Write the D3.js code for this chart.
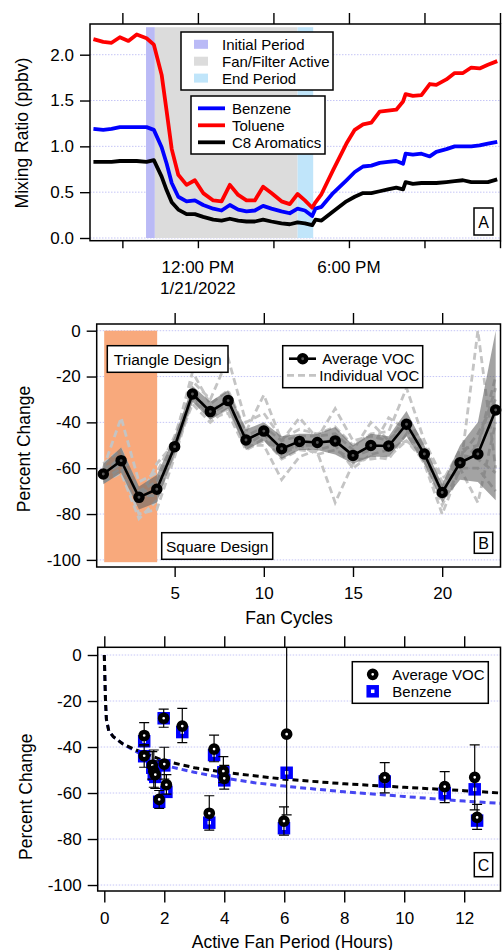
<!DOCTYPE html>
<html>
<head>
<meta charset="utf-8">
<script src="https://cdn.jsdelivr.net/npm/d3@7"></script>
<style>
body{margin:0;background:#fff}
svg{display:block;font-family:"Liberation Sans",Arial,Helvetica,sans-serif}
</style>
</head>
<body>
<svg id="fig" width="502" height="950"></svg>
<script>
// ---------- panel A : mixing ratios on 1/21/2022 (hour of day) ----------
var hoursA = [7.85,8.24,8.57,8.90,9.24,9.57,9.96,10.25,10.56,10.76,10.96,11.22,11.55,11.88,12.21,12.61,12.94,
  13.27,13.60,13.93,14.26,14.59,14.92,15.32,15.65,15.96,16.25,16.54,16.67,16.91,17.37,17.90,18.23,18.56,18.89,
  19.22,19.55,19.88,20.15,20.25,20.54,20.88,21.21,21.47,21.87,22.20,22.53,22.86,23.19,23.52,23.89];
var toluene = [2.17,2.14,2.13,2.19,2.15,2.22,2.18,2.11,1.78,1.38,0.97,0.69,0.58,0.63,0.49,0.41,0.40,
  0.58,0.47,0.41,0.41,0.56,0.49,0.40,0.37,0.48,0.41,0.33,0.39,0.48,0.74,1.03,1.18,1.24,1.26,
  1.38,1.39,1.40,1.49,1.57,1.55,1.56,1.68,1.67,1.73,1.80,1.80,1.86,1.85,1.89,1.93];
var benzene = [1.19,1.18,1.19,1.21,1.21,1.21,1.21,1.18,0.99,0.81,0.60,0.45,0.40,0.41,0.36,0.32,0.30,
  0.36,0.31,0.29,0.30,0.35,0.32,0.29,0.27,0.32,0.30,0.24,0.32,0.34,0.49,0.63,0.72,0.78,0.79,
  0.82,0.83,0.84,0.81,0.92,0.91,0.92,0.89,0.94,0.97,1.00,1.00,1.00,1.01,1.03,1.05];
var c8arom = [0.83,0.83,0.83,0.84,0.84,0.84,0.83,0.85,0.67,0.52,0.39,0.31,0.26,0.26,0.23,0.20,0.19,
  0.21,0.19,0.18,0.18,0.20,0.18,0.16,0.15,0.17,0.16,0.14,0.20,0.19,0.29,0.40,0.45,0.49,0.49,
  0.51,0.53,0.55,0.53,0.61,0.59,0.60,0.60,0.60,0.61,0.62,0.63,0.61,0.61,0.61,0.64];
var periodNames = ["Initial Period", "Fan/Filter Active", "End Period"];
var periodStart = [9.94, 10.29, 15.96];
var periodEnd = [10.29, 15.96, 16.58];
var periodTop = 2.3;
var ticksA = [0, 0.5, 1.0, 1.5, 2.0];

// ---------- panel B : percent change per fan cycle ----------
var cycles = [1,2,3,4,5,6,7,8,9,10,11,12,13,14,15,16,17,18,19,20,21,22,23];
var avgVOC = [-62.5,-56.7,-72.7,-69.2,-50.6,-27.6,-35.3,-30.5,-47.7,-43.8,-51.5,-48.3,-48.8,-48.1,-54.4,-50.1,-50.3,-40.8,-53.8,-70.6,-57.6,-53.8,-34.6];
var bandHi = [-58,-51,-68,-63,-46,-24,-31,-26,-43,-40,-46,-45,-45,-42,-50,-45,-46,-35,-50,-67,-50,-40,0];
var bandLo = [-67,-62,-78,-75,-54,-31,-39,-34,-52,-48,-56,-52,-52,-54,-58,-55,-55,-46,-58,-75,-65,-66,-74];
var indiv1 = [-60,-38,-66,-62,-46,-22,-30,-12,-40,-36,-47,-43,-45,-42,-50,-45,-44,-25,-48,-64,-62,0,-60];
var indiv2 = [-65,-60,-80,-78,-55,-30,-38,-34,-52,-47,-56,-52,-53,-75,-58,-55,-56,-45,-58,-80,-60,-75,-40];
var indiv3 = [-58,-52,-70,-66,-48,-18,-32,-26,-44,-28,-48,-38,-47,-34,-48,-46,-48,-38,-50,-66,-52,-50,-20];
var indiv4 = [-66,-62,-82,-74,-52,-32,-40,-34,-50,-50,-65,-55,-52,-50,-60,-54,-52,-48,-57,-76,-60,-60,-70];
var indiv5 = [-62,-55,-74,-58,-49,-26,-36,-32,-46,-42,-48,-46,-46,-45,-52,-40,-48,-40,-52,-72,-55,-45,-30];
var indiv6 = [-63,-58,-72,-72,-54,-28,-35,-30,-50,-45,-54,-50,-50,-47,-55,-52,-38,-43,-56,-70,-58,-50,-25];
var indiv7 = [-60,-57,-70,-70,-50,-28,-38,-36,-52,-48,-52,-50,-54,-52,-56,-56,-55,-48,-55,-68,-54,-56,-62];
var triangleSpan = [1.05, 4.02];
var ticksPct = [0, -20, -40, -60, -80, -100];
var ticksCycles = [5, 10, 15, 20];

// ---------- panel C : percent change vs active fan period ----------
var fanHours = [1.33,1.33,1.60,1.65,1.70,1.83,1.98,2.00,2.07,2.60,3.50,3.66,3.97,4.00,5.99,6.08,9.35,11.35,12.35,12.43];
var vocC = [-35.0,-43.8,-48.0,-50.5,-52.0,-62.8,-27.5,-47.4,-56.4,-30.9,-68.8,-40.9,-50.5,-53.6,-72.2,-34.4,-53.3,-57.2,-53.2,-70.6];
var vocLo = [-39.5,-48.8,-54.0,-57.5,-58.0,-66.7,-31.4,-54.0,-60.5,-38.1,-76.1,-46.4,-55.5,-58.3,-78.3,-69.5,-59.9,-64.2,-67.3,-75.8];
var vocHi = [-29.4,-39.0,-42.0,-41.3,-46.0,-58.9,-23.5,-40.1,-52.0,-23.2,-61.2,-34.8,-44.2,-48.0,-66.0,3.3,-46.8,-50.7,-39.1,-64.9];
var benzC = [-37.5,-44.0,-49.0,-52.0,-53.0,-63.8,-27.5,-48.0,-59.5,-33.5,-72.9,-43.5,-51.0,-54.5,-75.3,-51.2,-55.0,-60.1,-58.4,-72.0];
var fitHours = [0,0.02,0.04,0.07,0.15,0.3,0.6,1,1.5,2,3,4,5,6,8,10,12,13.2];
var fitVOC = [0,-10,-20,-28,-33,-35.5,-38.5,-41,-43.5,-46,-49,-51,-52.5,-54,-56,-57.5,-59,-60];
var fitBenz = [0,-10,-20,-28,-33,-35.5,-38.5,-41.5,-45,-48,-51,-53.5,-55.5,-57,-59.5,-61.5,-63.5,-64.5];
var ticksHours = [0, 2, 4, 6, 8, 10, 12];

var svg = d3.select("#fig");
var tickFont = 17, titleFont = 17.5, legFont = 15;
var gridColor = "#c6c6f6";

function hourDate(h){ return new Date(new Date(2022, 0, 21).getTime() + h * 3600000); }

function styleAxis(g){
  g.select(".domain").remove();
  g.selectAll(".tick line").attr("stroke", "#000").attr("stroke-width", 1.4);
  g.selectAll(".tick text").attr("fill", "#000").style("font-size", tickFont + "px").style("font-family", "inherit");
  return g;
}

function grid(g, vals, y, x0, x1){
  g.selectAll(null).data(vals).enter().append("line")
    .attr("x1", x0).attr("x2", x1)
    .attr("y1", function(d){ return y(d); }).attr("y2", function(d){ return y(d); })
    .attr("stroke", gridColor).attr("stroke-width", 1).attr("stroke-dasharray", "1.5,1.5");
}

function box(g, x, y, w, h){
  return g.append("rect").attr("x", x).attr("y", y).attr("width", w).attr("height", h)
    .attr("fill", "#fff").attr("stroke", "#000").attr("stroke-width", 1.5);
}

function label(g, x, y, txt, size, anchor){
  return g.append("text").attr("x", x).attr("y", y).attr("text-anchor", anchor || "start")
    .attr("dominant-baseline", "central").style("font-size", (size || legFont) + "px").text(txt);
}

function panelTag(g, x, y, w, h, txt){
  box(g, x, y, w, h);
  label(g, x + w / 2, y + h / 2 + 0.5, txt, 16, "middle");
}

function yTitle(g, x, y, txt){
  g.append("text").attr("transform", "translate(" + x + "," + y + ") rotate(-90)")
    .attr("text-anchor", "middle").attr("dominant-baseline", "central")
    .style("font-size", titleFont + "px").text(txt);
}

// =============== Panel A ===============
(function(){
  var P = {l: 90, r: 500.5, t: 24, b: 240.7};
  var g = svg.append("g");
  var x = d3.scaleTime().domain([hourDate(7.714), hourDate(24.02)]).range([P.l, P.r]);
  var y = d3.scaleLinear().domain([-0.0295, 2.335]).range([P.b, P.t]);
  var periodFill = ["#babaf6", "#dcdcdc", "#c0e5fa"];

  grid(g, ticksA, y, P.l, P.r);

  g.selectAll("rect.period").data(periodNames).enter().append("rect").attr("class", "period")
    .attr("x", function(d, i){ return x(hourDate(periodStart[i])); })
    .attr("width", function(d, i){ return x(hourDate(periodEnd[i])) - x(hourDate(periodStart[i])); })
    .attr("y", y(periodTop)).attr("height", y(0) - y(periodTop))
    .attr("fill", function(d, i){ return periodFill[i]; });

  var series = [{name: "Benzene", v: benzene, c: "#0000ff"},
                {name: "Toluene", v: toluene, c: "#ff0000"},
                {name: "C8 Aromatics", v: c8arom, c: "#000000"}];
  var line = function(vals){
    return d3.line().x(function(d, i){ return x(hourDate(hoursA[i])); }).y(function(d){ return y(d); })(vals);
  };
  g.selectAll("path.ser").data(series.slice().reverse()).enter().append("path").attr("class", "ser")
    .attr("d", function(d){ return line(d.v); })
    .attr("fill", "none").attr("stroke", function(d){ return d.c; })
    .attr("stroke-width", 3.8).attr("stroke-linejoin", "round");

  g.append("rect").attr("x", P.l).attr("y", P.t).attr("width", P.r - P.l).attr("height", P.b - P.t)
    .attr("fill", "none").attr("stroke", "#000").attr("stroke-width", 1.5);

  styleAxis(g.append("g").attr("transform", "translate(" + P.l + ",0)")
    .call(d3.axisLeft(y).tickValues(ticksA).tickFormat(d3.format(".1f")).tickSize(10).tickPadding(6)));
  styleAxis(g.append("g").attr("transform", "translate(0," + P.t + ")")
    .call(d3.axisTop(x).ticks(d3.timeHour.every(3)).tickFormat("").tickSize(11)));
  styleAxis(g.append("g").attr("transform", "translate(0," + P.b + ")")
    .call(d3.axisBottom(x).ticks(d3.timeHour.every(3)).tickFormat("").tickSize(7.5)));

  var fmt = d3.timeFormat("%-I:%M %p");
  [12, 18].forEach(function(h){
    label(g, x(hourDate(h)), 267, fmt(hourDate(h)), tickFont, "middle");
  });
  label(g, x(hourDate(12)), 288, d3.timeFormat("%-m/%-d/%Y")(hourDate(12)), tickFont, "middle");

  yTitle(g, 21.5, 133, "Mixing Ratio (ppbv)");

  // legends
  var lg = g.append("g");
  box(lg, 181, 32, 152, 58);
  periodNames.forEach(function(n, i){
    var cy = 44.3 + i * 16.9;
    lg.append("rect").attr("x", 194).attr("y", cy - 4.5).attr("width", 14).attr("height", 9).attr("fill", periodFill[i]);
    label(lg, 222, cy, n);
  });
  box(lg, 191, 96, 134, 58);
  series.forEach(function(s, i){
    var cy = 108.3 + i * 17;
    lg.append("line").attr("x1", 198).attr("x2", 225).attr("y1", cy).attr("y2", cy)
      .attr("stroke", s.c).attr("stroke-width", 3.8);
    label(lg, 232, cy, s.name);
  });
  panelTag(g, 474, 208, 19, 27, "A");
})();

// =============== Panel B ===============
(function(){
  var P = {l: 96.7, r: 500.5, t: 324, b: 567};
  var g = svg.append("g");
  var x = d3.scaleLinear().domain([0.63, 23.27]).range([P.l, P.r]);
  var y = d3.scaleLinear().domain([-103.1, 2.92]).range([P.b, P.t]);

  grid(g, ticksPct, y, P.l, P.r);

  g.append("rect").attr("x", x(triangleSpan[0])).attr("width", x(triangleSpan[1]) - x(triangleSpan[0]))
    .attr("y", y(0)).attr("height", y(-101) - y(0)).attr("fill", "#f8a97c");

  var line = d3.line().x(function(d, i){ return x(cycles[i]); }).y(function(d){ return y(d); });
  var indiv = [indiv1, indiv2, indiv3, indiv4, indiv5, indiv6, indiv7];
  g.selectAll("path.ind").data(indiv).enter().append("path").attr("class", "ind")
    .attr("d", line).attr("fill", "none").attr("stroke", "#c4c4c4")
    .attr("stroke-width", 2.8).attr("stroke-dasharray", "7,4");

  var area = d3.area().x(function(d, i){ return x(cycles[i]); })
    .y0(function(d, i){ return y(bandLo[i]); }).y1(function(d, i){ return y(bandHi[i]); });
  g.append("path").attr("d", area(cycles)).attr("fill", "#666").attr("fill-opacity", 0.6);

  g.append("path").attr("d", line(avgVOC)).attr("fill", "none").attr("stroke", "#000").attr("stroke-width", 2.6);
  g.selectAll("circle.avg").data(avgVOC).enter().append("circle").attr("class", "avg")
    .attr("cx", function(d, i){ return x(cycles[i]); }).attr("cy", function(d){ return y(d); })
    .attr("r", 3.6).attr("fill", "#555").attr("stroke", "#000").attr("stroke-width", 4.3);

  g.append("rect").attr("x", P.l).attr("y", P.t).attr("width", P.r - P.l).attr("height", P.b - P.t)
    .attr("fill", "none").attr("stroke", "#000").attr("stroke-width", 1.5);

  styleAxis(g.append("g").attr("transform", "translate(" + P.l + ",0)")
    .call(d3.axisLeft(y).tickValues(ticksPct).tickFormat(function(d){ return String(d); }).tickSize(10).tickPadding(6)));
  styleAxis(g.append("g").attr("transform", "translate(0," + P.t + ")")
    .call(d3.axisTop(x).tickValues(ticksCycles).tickFormat("").tickSize(11)));
  styleAxis(g.append("g").attr("transform", "translate(0," + P.b + ")")
    .call(d3.axisBottom(x).tickValues(ticksCycles).tickSize(10).tickPadding(10)));

  label(g, 289, 618, "Fan Cycles", titleFont, "middle");
  yTitle(g, 24.3, 449, "Percent Change");

  box(g, 107.3, 345.7, 120.7, 26.6);
  label(g, 167.7, 359.3, "Triangle Design", 15.5, "middle");
  box(g, 161.7, 532.7, 111, 26.6);
  label(g, 217.2, 546.3, "Square Design", 15.5, "middle");

  box(g, 282.7, 345.7, 140, 42);
  g.append("line").attr("x1", 289).attr("x2", 316).attr("y1", 358.7).attr("y2", 358.7)
    .attr("stroke", "#000").attr("stroke-width", 2.6);
  g.append("circle").attr("cx", 302.7).attr("cy", 358.7).attr("r", 3.6)
    .attr("fill", "#555").attr("stroke", "#000").attr("stroke-width", 4.3);
  label(g, 322.3, 358.7, "Average VOC");
  g.append("line").attr("x1", 287).attr("x2", 316).attr("y1", 375.3).attr("y2", 375.3)
    .attr("stroke", "#c4c4c4").attr("stroke-width", 2.8).attr("stroke-dasharray", "7,4");
  label(g, 319.3, 375.3, "Individual VOC");

  panelTag(g, 474.3, 532.3, 18.4, 21, "B");
})();

// =============== Panel C ===============
(function(){
  var P = {l: 97.7, r: 500.5, t: 647.3, b: 891};
  var g = svg.append("g");
  var x = d3.scaleLinear().domain([-0.22, 13.21]).range([P.l, P.r]);
  var y = d3.scaleLinear().domain([-102.6, 3.35]).range([P.b, P.t]);

  svg.append("clipPath").attr("id", "clipC").append("rect")
    .attr("x", P.l).attr("y", P.t).attr("width", P.r - P.l).attr("height", P.b - P.t);

  grid(g, ticksPct, y, P.l, P.r);

  var plot = g.append("g").attr("clip-path", "url(#clipC)");
  var fline = d3.line().x(function(d, i){ return x(fitHours[i]); }).y(function(d){ return y(d); });
  plot.append("path").attr("d", fline(fitBenz)).attr("fill", "none").attr("stroke", "#4646f2")
    .attr("stroke-width", 3).attr("stroke-dasharray", "6,4");
  plot.append("path").attr("d", fline(fitVOC)).attr("fill", "none").attr("stroke", "#000")
    .attr("stroke-width", 3).attr("stroke-dasharray", "6,4");

  var sq = 8;
  plot.selectAll("rect.bz").data(benzC).enter().append("rect").attr("class", "bz")
    .attr("x", function(d, i){ return x(fanHours[i]) - sq / 2; }).attr("y", function(d){ return y(d) - sq / 2; })
    .attr("width", sq).attr("height", sq).attr("fill", "#fff").attr("stroke", "#0000ff").attr("stroke-width", 4.5);

  var eb = plot.selectAll("g.eb").data(vocC).enter().append("g").attr("class", "eb");
  eb.append("line").attr("x1", function(d, i){ return x(fanHours[i]); }).attr("x2", function(d, i){ return x(fanHours[i]); })
    .attr("y1", function(d, i){ return y(vocLo[i]); }).attr("y2", function(d, i){ return y(vocHi[i]); })
    .attr("stroke", "#000").attr("stroke-width", 1.2);
  [vocLo, vocHi].forEach(function(arr){
    eb.append("line").attr("x1", function(d, i){ return x(fanHours[i]) - 5; }).attr("x2", function(d, i){ return x(fanHours[i]) + 5; })
      .attr("y1", function(d, i){ return y(arr[i]); }).attr("y2", function(d, i){ return y(arr[i]); })
      .attr("stroke", "#000").attr("stroke-width", 1.2);
  });
  plot.selectAll("circle.voc").data(vocC).enter().append("circle").attr("class", "voc")
    .attr("cx", function(d, i){ return x(fanHours[i]); }).attr("cy", function(d){ return y(d); })
    .attr("r", 3.6).attr("fill", "#fff").attr("stroke", "#000").attr("stroke-width", 4.5);

  g.append("rect").attr("x", P.l).attr("y", P.t).attr("width", P.r - P.l).attr("height", P.b - P.t)
    .attr("fill", "none").attr("stroke", "#000").attr("stroke-width", 1.5);

  styleAxis(g.append("g").attr("transform", "translate(" + P.l + ",0)")
    .call(d3.axisLeft(y).tickValues(ticksPct).tickFormat(function(d){ return String(d); }).tickSize(10).tickPadding(6)));
  styleAxis(g.append("g").attr("transform", "translate(0," + P.t + ")")
    .call(d3.axisTop(x).tickValues(ticksHours).tickFormat("").tickSize(11)));
  styleAxis(g.append("g").attr("transform", "translate(0," + P.b + ")")
    .call(d3.axisBottom(x).tickValues(ticksHours).tickSize(11.5).tickPadding(9)));

  label(g, 292.5, 941.5, "Active Fan Period (Hours)", titleFont, "middle");
  yTitle(g, 26, 796.7, "Percent Change");

  box(g, 352.3, 661.7, 136, 41.6);
  g.append("circle").attr("cx", 372.7).attr("cy", 674.3).attr("r", 3.6)
    .attr("fill", "#fff").attr("stroke", "#000").attr("stroke-width", 4.5);
  label(g, 392.3, 674.3, "Average VOC");
  g.append("rect").attr("x", 372.7 - sq / 2).attr("y", 691.3 - sq / 2).attr("width", sq).attr("height", sq)
    .attr("fill", "#fff").attr("stroke", "#0000ff").attr("stroke-width", 4.5);
  label(g, 392.3, 691.3, "Benzene");

  panelTag(g, 474.3, 852.7, 18.4, 24, "C");
})();
</script>
</body>
</html>
